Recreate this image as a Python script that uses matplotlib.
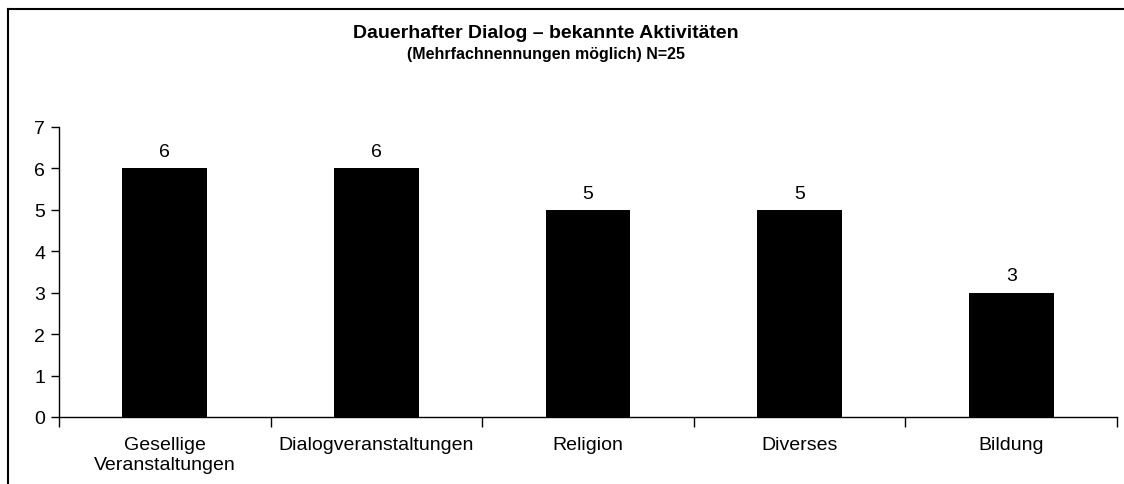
import matplotlib
matplotlib.use("Agg")
import matplotlib.pyplot as plt
from matplotlib.lines import Line2D
import numpy as np

plt.rcParams["font.family"] = ["Liberation Sans", "DejaVu Sans"]

categories = ["Gesellige\nVeranstaltungen", "Dialogveranstaltungen", "Religion",
              "Diverses", "Bildung"]
counts = [6, 6, 5, 5, 3]
title = "Dauerhafter Dialog – bekannte Aktivitäten"
subtitle = "(Mehrfachnennungen möglich) N=25"

fig = plt.figure(figsize=(11.24, 4.85), dpi=100)
ax = fig.add_axes([59 / 1124, 67 / 485, 1058 / 1124, 290 / 485])

x = np.arange(len(categories))
bars = ax.bar(x, counts, width=0.4, color="black")
ax.bar_label(bars, labels=[str(c) for c in counts], padding=6, fontsize=14)

ax.set_xlim(-0.5, len(categories) - 0.5)
ax.set_ylim(0, 7)
ax.set_yticks(range(0, 8))
ax.set_xticks(x)
ax.set_xticklabels(categories, fontsize=14)
ax.set_xticks(np.arange(-0.5, len(categories)), minor=True)
ax.tick_params(axis="x", which="major", length=0, pad=14)
ax.tick_params(axis="x", which="minor", length=7, direction="out", width=1)
ax.tick_params(axis="y", length=6, direction="out", width=1, labelsize=14, pad=4)
for lab in ax.get_yticklabels():
    lab.set_fontsize(14)

ax.spines["top"].set_visible(False)
ax.spines["right"].set_visible(False)
for s in ("left", "bottom"):
    ax.spines[s].set_linewidth(1)

fig.text(546 / 1124, 1 - 33 / 485, title, ha="center", va="center",
         fontsize=14, fontweight="bold")
fig.text(546 / 1124, 1 - 55 / 485, subtitle, ha="center", va="center",
         fontsize=11.5, fontweight="bold")

# chart frame (only top and left edges fall inside the picture)
top_y = 1 - 10 / 485
left_x = 8 / 1124
fig.add_artist(Line2D([left_x, 1.0], [top_y, top_y], transform=fig.transFigure,
                      color="black", lw=1.5))
fig.add_artist(Line2D([left_x, left_x], [0, top_y], transform=fig.transFigure,
                      color="black", lw=1.5))

fig.savefig("out.png", dpi=100)
